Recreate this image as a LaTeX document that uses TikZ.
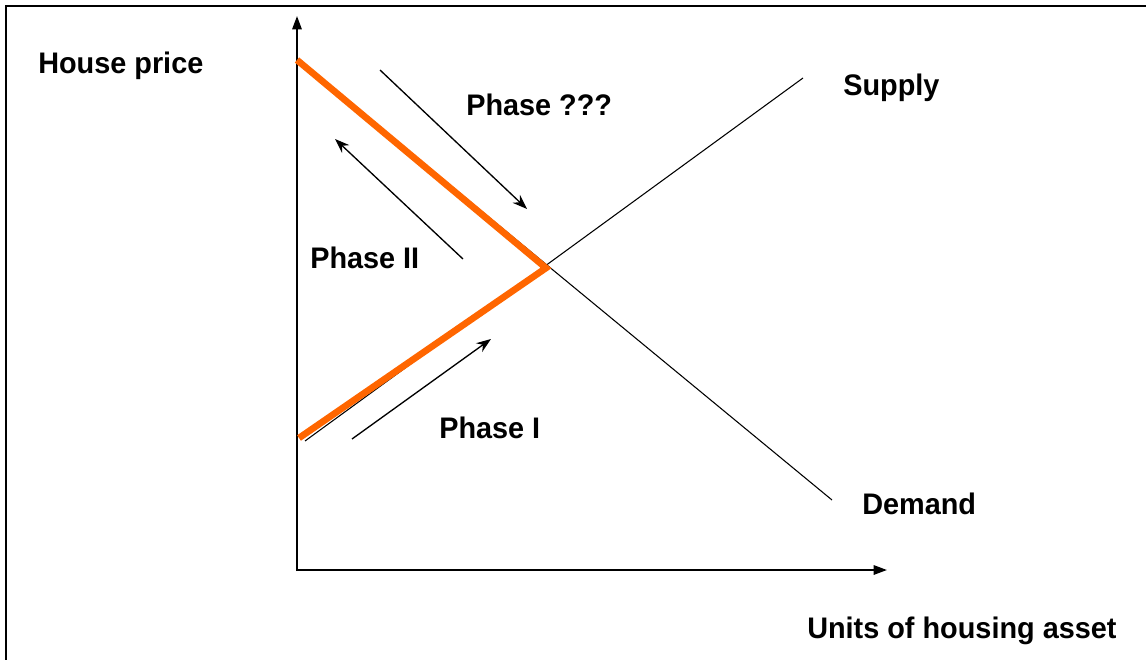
\documentclass[tikz,border=0pt]{standalone}
\usepackage{fontspec}
\setmainfont{Liberation Sans}
\usetikzlibrary{arrows.meta}
\begin{document}
\begin{tikzpicture}[x=0.75pt,y=-0.75pt,
  lbl/.style={font=\bfseries\fontsize{22.3}{24}\selectfont, anchor=base west, inner sep=0pt},
  axis/.style={line width=1.5pt, -{Triangle[length=10pt,width=7pt]}},
  thin/.style={line width=0.8pt},
  phasearrow/.style={line width=1pt, -{Stealth[length=11pt,width=8pt]}},
  orangeline/.style={line width=5pt, draw={rgb,255:red,255;green,102;blue,0}, line join=miter}]
\useasboundingbox (0,0) rectangle (1146,660);
% frame
\draw[line width=2pt] (6,660) -- (6,6) -- (1146,6);
% coordinates
\coordinate (ytop) at (297,16);
\coordinate (xend) at (887,570);
\coordinate (dA) at (297,59);
\coordinate (dB) at (832,500);
\coordinate (sA) at (305,441);
\coordinate (sB) at (803,78);
\coordinate (P) at (546,268);
\coordinate (oTop) at (297,60);
\coordinate (oBot) at (299,438);
% axes
\draw[axis] (297,571) -- (ytop);
\draw[axis] (296,570) -- (xend);
% supply and demand
\draw[thin] (dA) -- (dB);
\draw[thin] (sA) -- (sB);
% orange path
\draw[orangeline] (oTop) -- (P) -- (oBot);
% phase arrows
\coordinate (a1s) at (380,70); \coordinate (a1e) at (527,209);
\coordinate (a2s) at (463,259); \coordinate (a2e) at (335,139);
\coordinate (a3s) at (352,439); \coordinate (a3e) at (491,339);
\draw[phasearrow] (a1s) -- (a1e);
\draw[phasearrow] (a2s) -- (a2e);
\draw[phasearrow] (a3s) -- (a3e);
% labels
\node[lbl] (hp) at (38,74) {\scalebox{0.97}[1]{House price}};
\node[lbl] (sup) at (843,95) {\scalebox{0.97}[1]{Supply}};
\node[lbl] (p3) at (466,115) {\scalebox{0.97}[1]{Phase ???}};
\node[lbl] (p2) at (310,268) {\scalebox{0.97}[1]{Phase II}};
\node[lbl] (p1) at (439,438) {\scalebox{0.97}[1]{Phase I}};
\node[lbl] (dem) at (862,514) {\scalebox{0.97}[1]{Demand}};
\node[lbl] (units) at (807,638) {\scalebox{0.97}[1]{Units of housing asset}};
\end{tikzpicture}
\end{document}
